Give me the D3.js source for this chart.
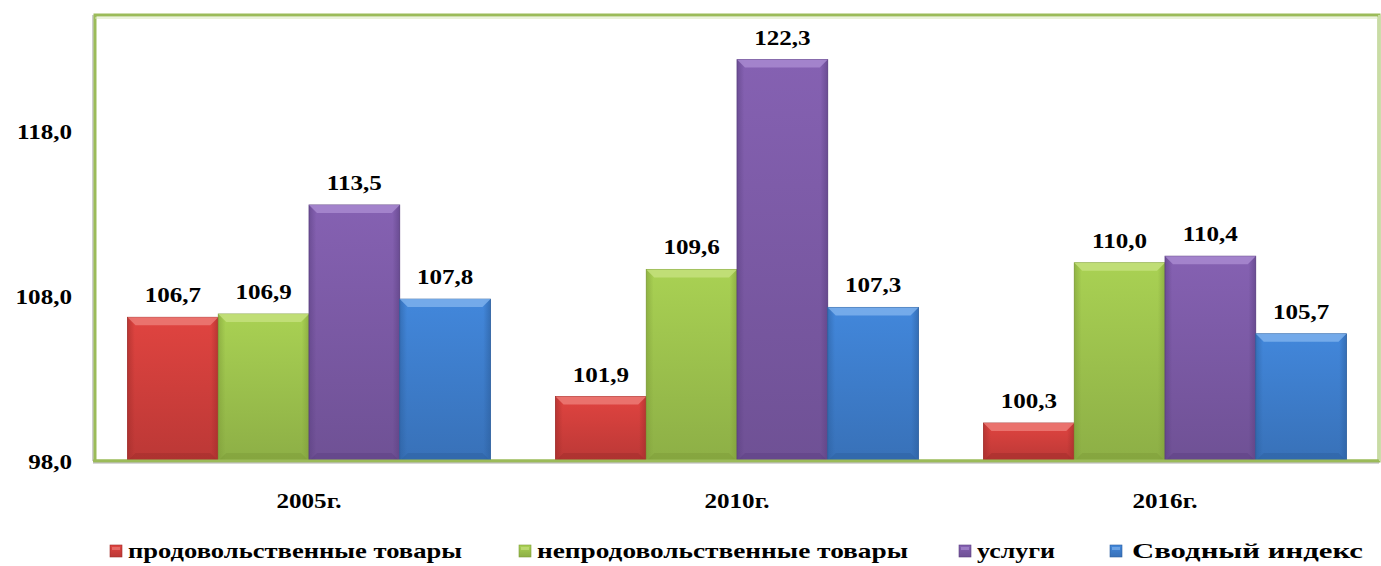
<!DOCTYPE html>
<html><head><meta charset="utf-8">
<script src="https://cdn.jsdelivr.net/npm/d3@7"></script>
<style>
html,body{margin:0;padding:0;background:#fff;}
</style></head>
<body><svg id="c" width="1381" height="566"></svg>
<script>
const categories = ["2005г.", "2010г.", "2016г."];
const seriesNames = ["продовольственные товары", "непродовольственные товары", "услуги", "Сводный индекс"];
const food    = [106.7, 101.9, 100.3];
const nonfood = [106.9, 109.6, 110.0];
const services= [113.5, 122.3, 110.4];
const summary = [107.8, 107.3, 105.7];
const yTicks = [98, 108, 118];
const seriesValues = [food, nonfood, services, summary];
const colors = [
  {base:"#d4403d", light:"#ec7a76", dark:"#9e2c2a"},
  {base:"#a0c64f", light:"#c4e07c", dark:"#7d9c38"},
  {base:"#7e5ca9", light:"#a88ad0", dark:"#5a3f80"},
  {base:"#3f80d0", light:"#7db0ec", dark:"#2c5f9e"}
];
const FONT = "Liberation Serif";

const svg = d3.select("#c");
const X0 = 95, X1 = 1379, Y0 = 15, Y1 = 461;
const y = d3.scaleLinear().domain([98, 125]).range([Y1, Y0]);
const x = d3.scaleBand().domain(categories).range([X0, X1]).paddingInner(0.152).paddingOuter(0.076);
const xs = d3.scaleBand().domain(d3.range(seriesNames.length)).range([0, x.bandwidth()]);
const fmt = v => d3.format(".1f")(v).replace(".", ",");

function styleText(sel, size) {
  return sel.attr("font-family", FONT).attr("font-weight", "bold").attr("font-size", size).attr("fill", "#000")
    .style("font-family", FONT).style("font-weight", "bold").style("font-size", size + "px");
}

const defs = svg.append("defs");
colors.forEach((c, i) => {
  const g = defs.append("linearGradient").attr("id", "v" + i).attr("x1", 0).attr("y1", 0).attr("x2", 0).attr("y2", 1);
  g.append("stop").attr("offset", "0%").attr("stop-color", d3.color(c.base).brighter(0.15));
  g.append("stop").attr("offset", "100%").attr("stop-color", d3.color(c.base).darker(0.35));
  const h = defs.append("linearGradient").attr("id", "h" + i).attr("x1", 0).attr("y1", 0).attr("x2", 1).attr("y2", 0);
  h.append("stop").attr("offset", "0%").attr("stop-color", c.dark).attr("stop-opacity", 0.55);
  h.append("stop").attr("offset", "8%").attr("stop-color", c.dark).attr("stop-opacity", 0);
  h.append("stop").attr("offset", "92%").attr("stop-color", c.dark).attr("stop-opacity", 0);
  h.append("stop").attr("offset", "100%").attr("stop-color", c.dark).attr("stop-opacity", 0.6);
});

// plot frame
svg.append("line").attr("x1", X0 - 2).attr("x2", X0 - 2).attr("y1", Y0).attr("y2", Y1).attr("stroke", "#9a9a9a").attr("stroke-width", 1);
svg.append("rect").attr("x", X0).attr("y", Y0).attr("width", X1 - X0).attr("height", Y1 - Y0)
  .attr("fill", "#fff").attr("stroke", "#9bbb59").attr("stroke-width", 3);
svg.append("line").attr("x1", X0).attr("x2", X1).attr("y1", Y0 + 3).attr("y2", Y0 + 3).attr("stroke", "#d6e6b8").attr("stroke-width", 1);
svg.append("line").attr("x1", X1).attr("x2", X1).attr("y1", Y0).attr("y2", Y1).attr("stroke", "#c8dca4").attr("stroke-width", 2);

// bars
const bev = 8;
categories.forEach((cat, ci) => {
  seriesValues.forEach((vals, si) => {
    const v = vals[ci];
    const bx = x(cat) + xs(si), bw = xs.bandwidth();
    const top = y(v), bot = y(98);
    const g = svg.append("g");
    g.append("rect").attr("x", bx).attr("y", top).attr("width", bw).attr("height", bot - top)
      .attr("fill", `url(#v${si})`).attr("stroke", colors[si].dark).attr("stroke-width", 0.8);
    g.append("rect").attr("x", bx).attr("y", top).attr("width", bw).attr("height", bot - top).attr("fill", `url(#h${si})`);
    g.append("path").attr("d", `M${bx},${top}L${bx + bw},${top}L${bx + bw - bev},${top + bev}L${bx + bev},${top + bev}Z`)
      .attr("fill", colors[si].light).attr("opacity", 0.85);
    g.append("path").attr("d", `M${bx},${bot}L${bx + bw},${bot}L${bx + bw - bev},${bot - bev}L${bx + bev},${bot - bev}Z`)
      .attr("fill", colors[si].dark).attr("opacity", 0.45);
    styleText(svg.append("text"), 22)
      .attr("transform", `translate(${bx + bw / 2},${top - 15}) scale(1.14,1)`)
      .attr("text-anchor", "middle").text(fmt(v));
  });
});

// bottom axis line
svg.append("line").attr("x1", X0 - 2).attr("x2", X1).attr("y1", Y1).attr("y2", Y1).attr("stroke", "#9bbb59").attr("stroke-width", 3);
svg.append("line").attr("x1", X0 - 2).attr("x2", X1).attr("y1", Y1 + 2).attr("y2", Y1 + 2).attr("stroke", "#b0b0b0").attr("stroke-width", 1);

// y axis labels
const yAxis = svg.append("g").attr("transform", `translate(72,0)`)
  .call(d3.axisLeft(y).tickValues(yTicks).tickSize(0).tickPadding(0).tickFormat(fmt));
yAxis.attr("font-family", null).attr("font-size", null);
yAxis.select(".domain").remove();
styleText(yAxis.selectAll("text"), 22).attr("transform", "scale(1.14,1)").attr("x", 0).attr("dy", "0.35em");

// x axis labels
const xAxis = svg.append("g").attr("transform", `translate(0,500)`)
  .call(d3.axisBottom(x).tickSize(0).tickPadding(0));
xAxis.attr("font-family", null).attr("font-size", null);
xAxis.select(".domain").remove();
styleText(xAxis.selectAll("text"), 22).attr("dy", "0.35em").attr("y", 0).attr("transform", "scale(1.14,1)").attr("x", 0);

// legend
const legendX = [110, 519, 959, 1110];
const legendTextX = [128, 537, 977, 1132];
const legendTextEnd = [462, 908, 1055, 1363];
const leg = svg.append("g").attr("transform", "translate(0,551)");
seriesNames.forEach((name, i) => {
  leg.append("rect").attr("x", legendX[i]).attr("y", -6).attr("width", 12).attr("height", 12)
    .attr("fill", `url(#v${i})`).attr("stroke", colors[i].dark).attr("stroke-width", 0.6);
  leg.append("rect").attr("x", legendX[i] + 2).attr("y", -4).attr("width", 8).attr("height", 3).attr("fill", colors[i].light).attr("opacity", 0.7);
  styleText(leg.append("text"), 22).attr("x", legendTextX[i]).attr("y", 0).attr("dy", "0.33em")
    .attr("textLength", legendTextEnd[i] - legendTextX[i]).attr("lengthAdjust", "spacingAndGlyphs").text(name);
});
</script></body></html>
